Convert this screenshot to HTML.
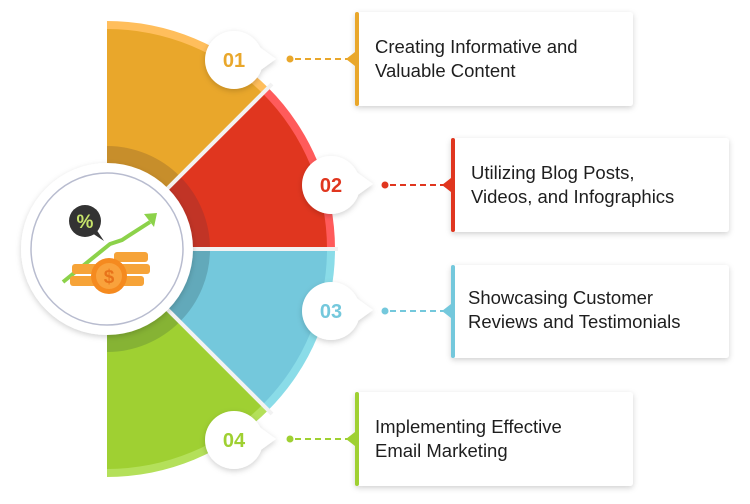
<!DOCTYPE html>
<html><head><meta charset="utf-8"><style>
body{margin:0;width:750px;height:499px;background:#fff;overflow:hidden;font-family:"Liberation Sans",sans-serif}
</style></head><body>
<svg width="750" height="499" viewBox="0 0 750 499" xmlns="http://www.w3.org/2000/svg">
<defs>
<filter id="sh" x="-20%" y="-20%" width="140%" height="140%"><feDropShadow dx="0" dy="2" stdDeviation="3" flood-color="#000" flood-opacity="0.18"/></filter>
</defs>
<path d="M107,249 L107,21 A228,228 0 0 1 268.2,87.8 Z" fill="#FFBE5C"/>
<path d="M107,249 L268.2,87.8 A228,228 0 0 1 335,249 Z" fill="#FF5B5B"/>
<path d="M107,249 L335,249 A228,228 0 0 1 268.2,410.2 Z" fill="#8ADCE8"/>
<path d="M107,249 L268.2,410.2 A228,228 0 0 1 107,477 Z" fill="#B4E05A"/>
<path d="M107,249 L107,29 A220,220 0 0 1 262.6,93.4 Z" fill="#E9A72B"/>
<path d="M107,249 L262.6,93.4 A220,220 0 0 1 327,249 Z" fill="#E0361F"/>
<path d="M107,249 L327,249 A220,220 0 0 1 262.6,404.6 Z" fill="#74C8DC"/>
<path d="M107,249 L262.6,404.6 A220,220 0 0 1 107,469 Z" fill="#9FD032"/>
<path d="M107,249 L107,146 A103,103 0 0 1 179.8,176.2 Z" fill="#C78E2B"/>
<path d="M107,249 L179.8,176.2 A103,103 0 0 1 210,249 Z" fill="#C13426"/>
<path d="M107,249 L210,249 A103,103 0 0 1 179.8,321.8 Z" fill="#62A9BA"/>
<path d="M107,249 L179.8,321.8 A103,103 0 0 1 107,352 Z" fill="#86B334"/>
<g stroke="#f2f2f2" stroke-width="4">
<line x1="107" y1="249" x2="272" y2="84"/>
<line x1="107" y1="249" x2="338" y2="249"/>
<line x1="107" y1="249" x2="272" y2="414"/>
</g>
<circle cx="107" cy="249" r="86" fill="#fff" filter="url(#sh)"/>
<circle cx="107" cy="249" r="76" fill="#fff" stroke="#b8bccf" stroke-width="1.5"/>
<circle cx="85" cy="221" r="16" fill="#333"/>
<path d="M92,233 L104,241 L96,229 Z" fill="#333"/>
<text x="85" y="228" font-size="19" font-weight="bold" fill="#c6e36a" text-anchor="middle">%</text>
<polyline points="63,282 110,244 122,240 150,222" fill="none" stroke="#8cd24a" stroke-width="4"/>
<path d="M144,214 L157,213 L154,227 Z" fill="#8cd24a"/>
<g fill="#f6a338">
<rect x="72" y="264" width="26" height="10" rx="3"/><rect x="70" y="276" width="28" height="10" rx="3"/>
<rect x="114" y="252" width="34" height="10" rx="3"/><rect x="116" y="264" width="34" height="10" rx="3"/><rect x="114" y="276" width="30" height="10" rx="3"/>
</g>
<circle cx="109" cy="276" r="18" fill="#f58a1f"/>
<circle cx="109" cy="276" r="13" fill="#f9a23c"/>
<text x="109" y="283" font-size="19" font-weight="bold" fill="#e8731a" text-anchor="middle">$</text>
<g font-family="Liberation Sans,sans-serif" font-size="20" font-weight="bold" text-anchor="middle">
<g filter="url(#sh)"><circle cx="234" cy="60" r="29" fill="#fff"/><path d="M258,46 L276,59 L258,72 Z" fill="#fff"/></g>
<text x="234" y="67" fill="#E9A72B">01</text>
<g filter="url(#sh)"><circle cx="331" cy="185" r="29" fill="#fff"/><path d="M355,171 L373,184 L355,197 Z" fill="#fff"/></g>
<text x="331" y="192" fill="#E0361F">02</text>
<g filter="url(#sh)"><circle cx="331" cy="311" r="29" fill="#fff"/><path d="M355,297 L373,310 L355,323 Z" fill="#fff"/></g>
<text x="331" y="318" fill="#74C8DC">03</text>
<g filter="url(#sh)"><circle cx="234" cy="440" r="29" fill="#fff"/><path d="M258,426 L276,439 L258,452 Z" fill="#fff"/></g>
<text x="234" y="447" fill="#9FD032">04</text>
</g>
<g stroke-width="2" stroke-dasharray="6,4">
<line x1="295" y1="59" x2="350" y2="59" stroke="#E9A72B"/>
<line x1="390" y1="185" x2="446" y2="185" stroke="#E0361F"/>
<line x1="390" y1="311" x2="446" y2="311" stroke="#74C8DC"/>
<line x1="295" y1="439" x2="350" y2="439" stroke="#9FD032"/>
</g>
<circle cx="290" cy="59" r="3.5" fill="#E9A72B"/>
<circle cx="385" cy="185" r="3.5" fill="#E0361F"/>
<circle cx="385" cy="311" r="3.5" fill="#74C8DC"/>
<circle cx="290" cy="439" r="3.5" fill="#9FD032"/>
<g filter="url(#sh)" fill="#fff">
<rect x="355" y="12" width="278" height="94" rx="3"/>
<rect x="451" y="138" width="278" height="94" rx="3"/>
<rect x="451" y="265" width="278" height="93" rx="3"/>
<rect x="355" y="392" width="278" height="94" rx="3"/>
</g>
<rect x="355" y="12" width="4" height="94" rx="2" fill="#E9A72B"/><path d="M355,52 L346,59 L355,66 Z" fill="#E9A72B"/>
<rect x="451" y="138" width="4" height="94" rx="2" fill="#E0361F"/><path d="M451,178 L442,185 L451,192 Z" fill="#E0361F"/>
<rect x="451" y="265" width="4" height="93" rx="2" fill="#74C8DC"/><path d="M451,304 L442,311 L451,318 Z" fill="#74C8DC"/>
<rect x="355" y="392" width="4" height="94" rx="2" fill="#9FD032"/><path d="M355,432 L346,439 L355,446 Z" fill="#9FD032"/>
<g font-family="Liberation Sans,sans-serif" font-size="18.5" fill="#1e1e1e">
<text x="375" y="53">Creating Informative and</text><text x="375" y="77">Valuable Content</text>
<text x="471" y="179">Utilizing Blog Posts,</text><text x="471" y="203">Videos, and Infographics</text>
<text x="468" y="304">Showcasing Customer</text><text x="468" y="328">Reviews and Testimonials</text>
<text x="375" y="433">Implementing Effective</text><text x="375" y="457">Email Marketing</text>
</g>
</svg>
</body></html>
